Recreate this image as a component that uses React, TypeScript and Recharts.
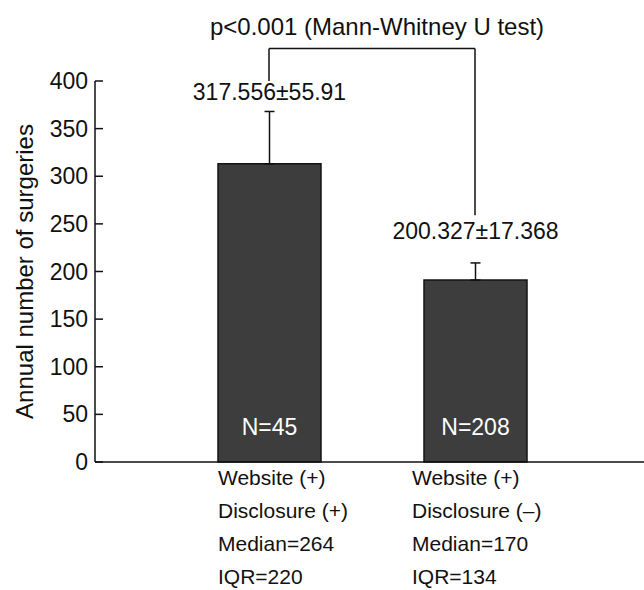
import React from 'react';
import { BarChart, Bar, XAxis, YAxis, ErrorBar, LabelList, ReferenceLine } from 'recharts';

const groups = ['g1', 'g2'];
const groupLabels = [
  ['Website (+)', 'Disclosure (+)', 'Median=264', 'IQR=220'],
  ['Website (+)', 'Disclosure (–)', 'Median=170', 'IQR=134'],
];
const barValues = [313, 191];
const errorValues = [55, 18];
const meanLabels = ['317.556±55.91', '200.327±17.368'];
const sampleLabels = ['N=45', 'N=208'];
const yTicks = [0, 50, 100, 150, 200, 250, 300, 350, 400];
const pText = 'p<0.001 (Mann-Whitney U test)';
const bracketTop = 434;
const bracketEnds = [400, 259];

const data = groups.map((g, i) => ({
  group: g,
  value: barValues[i],
  err: [0, errorValues[i]],
  mean: meanLabels[i],
  n: sampleLabels[i],
}));

const FONT = '"Liberation Sans", Arial, sans-serif';
const INK = '#111';
const xLabelShift = [-51, -63];
const meanGap = [11, 24];

const XTick = ({ x, y, payload }: any) => {
  const i = groups.indexOf(payload.value);
  const lx = x + xLabelShift[i];
  return (
    <text x={lx} y={y + 23} fontSize={21} fontFamily={FONT} fill={INK} textAnchor="start">
      {groupLabels[i].map((line, k) => (
        <tspan key={k} x={lx} dy={k === 0 ? 0 : 33}>
          {line}
        </tspan>
      ))}
    </text>
  );
};

const YTick = ({ x, y, payload }: any) => (
  <g>
    <line x1={x + 7} x2={x + 15} y1={y} y2={y} stroke={INK} strokeWidth={1.5} />
    <text x={x} y={y} dy={8} textAnchor="end" fontSize={23} fontFamily={FONT} fill={INK}>
      {payload.value}
    </text>
  </g>
);

const MeanLabel = (props: any) => {
  const { x, y, width, height, value } = props;
  const i = meanLabels.indexOf(value);
  const ppu = height / barValues[i];
  const top = y - errorValues[i] * ppu - meanGap[i];
  return (
    <text x={x + width / 2} y={top} textAnchor="middle" fontSize={23} fontFamily={FONT} fill={INK}>
      {value}
    </text>
  );
};

const NLabel = (props: any) => {
  const { x, y, width, height, value } = props;
  return (
    <text x={x + width / 2} y={y + height - 27} textAnchor="middle" fontSize={23} fontFamily={FONT} fill="#fff">
      {value}
    </text>
  );
};

const PLabel = ({ viewBox }: any) => (
  <text
    x={viewBox.x + viewBox.width / 2 + 5}
    y={viewBox.y - 14}
    textAnchor="middle"
    fontSize={24}
    fontFamily={FONT}
    fill={INK}
  >
    {pText}
  </text>
);

const YLabel = ({ viewBox }: any) => {
  const cx = viewBox.x + 24;
  const cy = viewBox.y + viewBox.height / 2;
  return (
    <text
      x={cx}
      y={cy}
      transform={`rotate(-90 ${cx} ${cy})`}
      textAnchor="middle"
      dominantBaseline="central"
      fontSize={24}
      fontFamily={FONT}
      fill={INK}
    >
      Annual number of surgeries
    </text>
  );
};

export default function App() {
  return (
    <div style={{ position: 'absolute', left: 0, top: 0, background: '#fff' }}>
      <BarChart width={644} height={590} data={data} margin={{ top: 81, right: 0, bottom: 0, left: 0 }}>
        <XAxis
          dataKey="group"
          padding={{ left: 71, right: 66 }}
          axisLine={{ stroke: INK, strokeWidth: 1.5 }}
          tickLine={false}
          tickSize={0}
          tickMargin={0}
          height={128}
          tick={<XTick />}
          interval={0}
        />
        <YAxis
          domain={[0, 400]}
          ticks={yTicks}
          width={95}
          axisLine={{ stroke: INK, strokeWidth: 1.5 }}
          tickLine={false}
          tickSize={0}
          tickMargin={7}
          tick={<YTick />}
          interval={0}
          label={<YLabel />}
        />
        <Bar dataKey="value" barSize={103} fill="#3d3d3d" stroke="#151515" strokeWidth={1.5} isAnimationActive={false}>
          <ErrorBar dataKey="err" direction="y" width={5} stroke={INK} strokeWidth={1.5} />
          <LabelList dataKey="mean" content={<MeanLabel />} />
          <LabelList dataKey="n" content={<NLabel />} />
        </Bar>
        <ReferenceLine
          segment={[{ x: groups[0], y: bracketTop }, { x: groups[0], y: bracketEnds[0] }]}
          stroke={INK}
          strokeWidth={1.5}
          ifOverflow="visible"
        />
        <ReferenceLine
          segment={[{ x: groups[1], y: bracketTop }, { x: groups[1], y: bracketEnds[1] }]}
          stroke={INK}
          strokeWidth={1.5}
          ifOverflow="visible"
        />
        <ReferenceLine
          segment={[{ x: groups[0], y: bracketTop }, { x: groups[1], y: bracketTop }]}
          stroke={INK}
          strokeWidth={1.5}
          ifOverflow="visible"
          label={<PLabel />}
        />
      </BarChart>
    </div>
  );
}
